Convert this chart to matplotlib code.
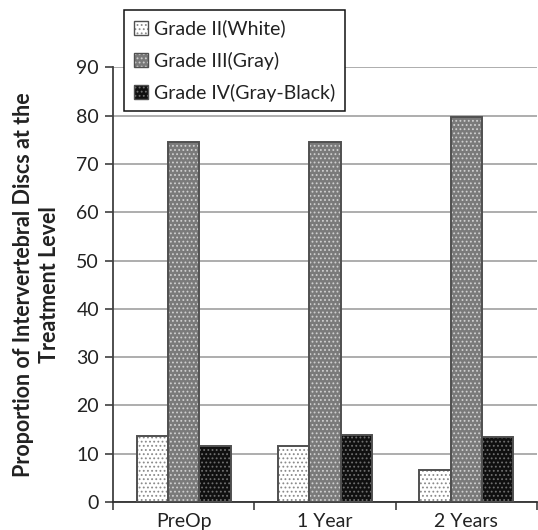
import matplotlib
matplotlib.use("Agg")
import matplotlib.pyplot as plt
import numpy as np
from matplotlib.patches import Patch

categories = ["PreOp", "1 Year", "2 Years"]
series_names = ["Grade II(White)", "Grade III(Gray)", "Grade IV(Gray-Black)"]
grade_ii = [13.7, 11.5, 6.7]
grade_iii = [74.6, 74.5, 79.7]
grade_iv = [11.6, 13.8, 13.5]
y_ticks = [0, 10, 20, 30, 40, 50, 60, 70, 80, 90]

# fill colour, dot colour
styles = [("#ffffff", "#8a8a8a"), ("#7a7a7a", "#d0d0d0"), ("#101010", "#707070")]
edge = "#505050"

plt.rcParams["font.family"] = ["Lato", "DejaVu Sans"]
plt.rcParams["hatch.linewidth"] = 0.8

fig = plt.figure(figsize=(5.38, 5.30), dpi=100)
ax = fig.add_axes([0.210, 0.0528, 0.788, 0.820])

x = np.arange(len(categories))
width = 0.222
offsets = [-width, 0, width]
handles = []
for vals, off, (fc, hc), name in zip([grade_ii, grade_iii, grade_iv], offsets, styles, series_names):
    ax.bar(x + off, vals, width, color=fc, edgecolor=hc, hatch="....", linewidth=0, zorder=2)
    ax.bar(x + off, vals, width, fill=False, edgecolor=edge, linewidth=1.4, zorder=3)
    handles.append((Patch(facecolor=fc, edgecolor=hc, hatch="....", linewidth=0),
                    Patch(fill=False, edgecolor=edge, linewidth=1.0)))

ax.set_xlim(-0.5, len(categories) - 0.5)
ax.set_ylim(0, 90)
ax.set_yticks(y_ticks)
ax.set_yticklabels([str(t) for t in y_ticks], fontsize=14, color="#222222")
ax.set_xticks(x)
ax.set_xticklabels(categories, fontsize=14, color="#222222")
ax.tick_params(axis="x", length=0, pad=8)
ax.tick_params(axis="y", length=6, width=1.2, color="#404040", pad=4)
# category boundary ticks
ax.set_xticks(np.arange(len(categories) + 1) - 0.5, minor=True)
ax.tick_params(axis="x", which="minor", length=6, width=1.2, color="#404040", direction="out")

ax.yaxis.grid(True, color="#a0a0a0", linewidth=1.2, zorder=0)
ax.set_axisbelow(True)
for s in ["top", "right"]:
    ax.spines[s].set_visible(False)
ax.spines["left"].set_color("#404040")
ax.spines["left"].set_linewidth(1.3)
ax.spines["bottom"].set_color("#303030")
ax.spines["bottom"].set_linewidth(1.3)

ax.set_ylabel("Proportion of Intervertebral Discs at the\nTreatment Level",
              fontsize=15.5, fontweight="bold", color="#222222", labelpad=12, linespacing=1.3)

leg = fig.legend(handles, series_names, loc="upper left",
                 bbox_to_anchor=(124 / 538, 1 - 10 / 530), fontsize=14,
                 frameon=True, fancybox=False, framealpha=1, edgecolor="#111111",
                 handlelength=0.75, handleheight=0.75, handletextpad=0.3,
                 labelspacing=0.72, borderpad=0.5, borderaxespad=0)
leg.get_frame().set_linewidth(1.1)
for t in leg.get_texts():
    t.set_color("#222222")

fig.savefig("out.png", dpi=100)
